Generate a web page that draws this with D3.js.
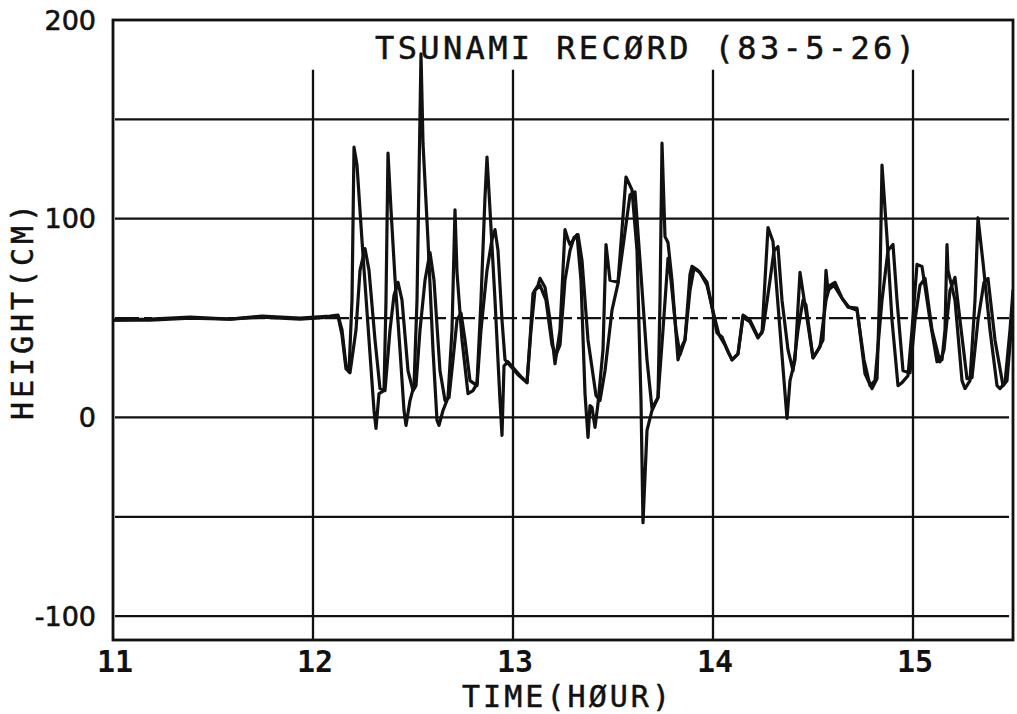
<!DOCTYPE html>
<html>
<head>
<meta charset="utf-8">
<script src="https://cdn.jsdelivr.net/npm/d3@7"></script>
<style>
  html, body { margin: 0; padding: 0; background: #fff; }
  svg { display: block; }
</style>
</head>
<body>
<svg id="chart" width="1017" height="714"></svg>
<script>
// ---- Data (time in minutes after 11:00, height in cm) ----
const chartTitle = "TSUNAMI RECØRD (83-5-26)";
const xTitle = "TIME(HØUR)";
const yTitle = "HEIGHT(CM)";
const xTickValues = [11, 12, 13, 14, 15];
const yTickValues = [200, 100, 0, -100];
const hGridValues = [150, 100, 50, 0, -50, -100];
const dashedGridValues = [50];
const vGridValues = [12, 13, 14, 15];

// Trace A (sharp, leading record)
const minutesA = [0, 11.1, 23.1, 35.1, 44.7, 56.1, 65.1, 67.5, 68.7, 69.9, 70.8, 71.7, 72.3, 73.2, 74.7, 76.8, 78.3, 78.9, 79.8, 81.3,
  81.9, 82.5, 83.4, 84.6, 86.1, 87.3, 87.9, 89.1, 90.3, 91.2, 92.4, 93, 94.5, 96, 97.2, 97.8, 99, 100.5, 101.7, 102.6,
  103.2, 104.7, 106.5, 108, 109.2, 110.4, 111.6, 112.2, 113.1, 114.6, 116.1, 116.7, 117.3, 118.5, 120.6, 122.7, 124.2, 125.1, 126, 127.5,
  128.1, 129.6, 131.1, 132.6, 134.1, 135.6, 136.5, 137.1, 139.2, 140.4, 141.6, 142.5, 143.1, 143.7, 144.6, 145.5, 147, 147.9, 149.1, 151.5,
  152.7, 153.9, 155.7, 157.2, 158.4, 159, 160.2, 161.7, 163.5, 164.1, 164.7, 165.6, 166.5, 167.7, 169.5, 170.7, 171.6, 173.1, 173.7, 175.5,
  178.2, 179.7, 181.2, 182.7, 184.5, 185.7, 187.5, 189, 191.1, 193.5, 194.7, 195.6, 196.5, 198, 200.1, 202.2, 203.1, 204.6, 206.1, 207.6,
  210, 211.5, 213, 213.9, 214.5, 216.3, 218.7, 220.5, 223.2, 225.6, 227.7, 229.2, 230.1, 230.7, 232.2, 233.7, 235.5, 236.7, 238.5, 239.7,
  241.2, 242.7, 245.1, 247.2, 248.7, 249.6, 250.2, 250.5, 252.6, 254.7, 255.6, 257.1, 258.6, 259.5, 261, 263.1, 265.2, 266.1, 267.6, 269.1, 270];
const heightA = [49, 49.5, 50.5, 49.5, 51, 50, 51, 51.5, 44, 26, 23, 59, 136, 127, 89, 39, 3.5, -5.5, 12, 13.5,
  59, 133, 104.5, 70, 34, 3.5, -4, 8.5, 16, 59, 183, 138, 89, 34, -1.5, -4, 3.5, 10, 44, 104.5,
  73, 39, 12, 13.5, 17, 59, 111, 131, 104.5, 59, 8.5, -9, 26, 28, 24, 20, 17.5, 39, 62.5, 66.5,
  70, 65.5, 49, 27, 44, 94.5, 89.5, 87, 92, 69, 12, -10, 6, 5, -5, 7, 34, 87, 69, 68,
  94.5, 121, 114.5, 84, 8.5, -53, -6.5, 3.5, 10, 59, 138, 91, 88, 69, 29, 36, 39, 72, 76, 74,
  68, 55.5, 42.5, 40.5, 33, 29, 32, 51.5, 49, 40.5, 42.5, 69, 95.5, 88.5, 44, -0.5, 18.5, 29, 73, 56.5,
  30, 34, 39, 74, 64, 66.5, 60, 55.5, 55, 22, 14.5, 19.5, 69, 127, 90.5, 49, 16, 17.5, 21, 44,
  77, 76, 49, 28, 29, 44, 87, 74, 59, 18.5, 14.5, 18.5, 59, 100.5, 78, 44, 16, 14.5, 17.5, 44, 64];

// Trace B (smoother, lagging record)
const minutesB = [0, 11.1, 23.1, 35.1, 44.7, 56.1, 65.1, 67.5, 68.7, 69.9, 71.1, 72.9, 74.1, 75.6, 76.8, 78.6, 80.1, 81.6, 83.1, 84.3,
  85.5, 86.7, 88.5, 90, 90.9, 92.1, 93.6, 95.1, 96.3, 98.1, 99.6, 100.8, 102, 103.2, 104.4, 105.6, 107.1, 109.2, 110.4, 112.2,
  113.7, 114.6, 115.5, 116.7, 117.6, 119.7, 121.5, 124.2, 125.4, 126.6, 128.1, 129.9, 131.7, 132.9, 134.1, 135.6, 137.1, 138.3, 139.5, 140.7,
  142.5, 144.9, 146.1, 147.6, 149.7, 151.5, 153.3, 155.1, 156.6, 158.1, 160.2, 161.7, 163.5, 165, 166.5, 167.1, 168.9, 170.1, 171.6, 173.1,
  174.3, 176.1, 178.2, 180.3, 181.8, 183.6, 185.7, 187.5, 189, 191.1, 193.5, 195, 197.1, 198.3, 199.5, 200.7, 202.5, 204, 205.5, 207,
  207.9, 210, 212.1, 213.9, 215.1, 216.6, 218.7, 220.8, 223.2, 225.3, 227.1, 228.6, 230.7, 232.5, 234, 235.2, 237, 239.1, 240.6, 242.1,
  243.6, 245.7, 248.1, 249.3, 251.1, 252.6, 254.1, 256.2, 257.7, 259.5, 261.3, 262.5, 264.6, 267, 268.2, 269.7, 270.3];
const heightB = [49, 49, 50, 49.5, 50.5, 49.5, 50.5, 51, 41.5, 24.5, 22.5, 44, 74, 85, 74, 39, 14.5, 13.5, 44, 61.5,
  68, 59, 23.5, 13.5, 16, 44, 69, 83, 69, 23.5, 8.5, 10, 29, 49, 52.5, 39, 18.5, 16, 44, 74,
  89.5, 94.5, 84, 49, 29, 25, 21.5, 17.5, 44, 64, 66.5, 59, 36.5, 31.5, 36.5, 69, 84, 90.5, 92, 79,
  39, 11, 8.5, 23.5, 54, 67.5, 89.5, 112, 113.5, 79, 29, 4.5, 10, 44, 80, 74, 44, 31.5, 39, 64,
  75, 73, 66.5, 51.5, 41.5, 36.5, 29, 32, 50.5, 48, 40, 44, 69, 84, 86, 59, 34, 23.5, 44, 59,
  56.5, 30, 35.5, 59, 66.5, 68, 60, 55.5, 54, 29, 16, 18.5, 59, 84, 87, 59, 23.5, 22.5, 49, 66.5,
  70, 44, 28, 34, 64, 70.5, 49, 19.5, 20, 49, 68, 70, 39, 16, 18.5, 49, 59];

// ---- Layout ----
const svg = d3.select("#chart");
const frame = { left: 113, right: 1013, top: 20, bottom: 640 };

const x = d3.scaleLinear().domain([11, 15.5]).range([frame.left, frame.right]);
const y = d3.scaleLinear().domain([-112, 200]).range([frame.bottom, frame.top]);

const ink = "#111";

// Clip
svg.append("defs").append("clipPath").attr("id", "plotclip")
  .append("rect")
  .attr("x", frame.left).attr("y", frame.top)
  .attr("width", frame.right - frame.left).attr("height", frame.bottom - frame.top);

// Horizontal grid lines
svg.append("g").selectAll("line").data(hGridValues).join("line")
  .attr("x1", frame.left + 2).attr("x2", frame.right - 4)
  .attr("y1", d => y(d)).attr("y2", d => y(d))
  .attr("stroke", ink).attr("stroke-width", 2.3)
  .attr("stroke-dasharray", d => dashedGridValues.includes(d) ? "24,5,8,5" : null);

// Vertical grid lines
svg.append("g").selectAll("line").data(vGridValues).join("line")
  .attr("x1", d => x(d)).attr("x2", d => x(d))
  .attr("y1", y(175)).attr("y2", frame.bottom)
  .attr("stroke", ink).attr("stroke-width", 2.3);

// Frame
svg.append("rect")
  .attr("x", frame.left).attr("y", frame.top)
  .attr("width", frame.right - frame.left).attr("height", frame.bottom - frame.top)
  .attr("fill", "none").attr("stroke", ink).attr("stroke-width", 2.8);

// Data lines
const line = d3.line()
  .x(d => x(11 + d[0] / 60))
  .y(d => y(d[1]));

const traces = [
  d3.zip(minutesA, heightA),
  d3.zip(minutesB, heightB)
];

svg.append("g").attr("clip-path", "url(#plotclip)")
  .selectAll("path").data(traces).join("path")
  .attr("d", line)
  .attr("fill", "none")
  .attr("stroke", ink)
  .attr("stroke-width", 3.2)
  .attr("stroke-linejoin", "round")
  .attr("stroke-linecap", "round");

// Y tick labels
svg.append("g").selectAll("text").data(yTickValues).join("text")
  .attr("x", 96).attr("y", d => y(d) + 2)
  .attr("text-anchor", "end")
  .attr("dominant-baseline", "middle")
  .attr("font-family", "DejaVu Sans, sans-serif")
  .attr("font-size", 27)
  .attr("fill", ink)
  .attr("stroke", ink).attr("stroke-width", 0.6)
  .text(d => d);

// X tick labels
svg.append("g").selectAll("text").data(xTickValues).join("text")
  .attr("x", d => x(d) + 2).attr("y", 672)
  .attr("text-anchor", "middle")
  .attr("font-family", "DejaVu Sans Mono, monospace")
  .attr("font-weight", "bold")
  .attr("font-size", 30)
  .attr("fill", ink)
  .text(d => d);

// Title
svg.append("text")
  .attr("x", 375).attr("y", 59)
  .attr("font-family", "DejaVu Sans Mono, monospace")
  .attr("font-size", 32)
  .attr("textLength", 540)
  .attr("lengthAdjust", "spacing")
  .attr("fill", ink)
  .attr("stroke", ink).attr("stroke-width", 0.5)
  .text(chartTitle);

// X axis title
svg.append("text")
  .attr("x", 462).attr("y", 707)
  .attr("font-family", "DejaVu Sans Mono, monospace")
  .attr("font-size", 30)
  .attr("textLength", 208)
  .attr("lengthAdjust", "spacing")
  .attr("fill", ink)
  .attr("stroke", ink).attr("stroke-width", 0.5)
  .text(xTitle);

// Y axis title
svg.append("text")
  .attr("transform", "translate(33,420) rotate(-90)")
  .attr("x", 0).attr("y", 0)
  .attr("font-family", "DejaVu Sans Mono, monospace")
  .attr("font-size", 30)
  .attr("textLength", 216)
  .attr("lengthAdjust", "spacing")
  .attr("fill", ink)
  .attr("stroke", ink).attr("stroke-width", 0.5)
  .text(yTitle);
</script>
</body>
</html>
